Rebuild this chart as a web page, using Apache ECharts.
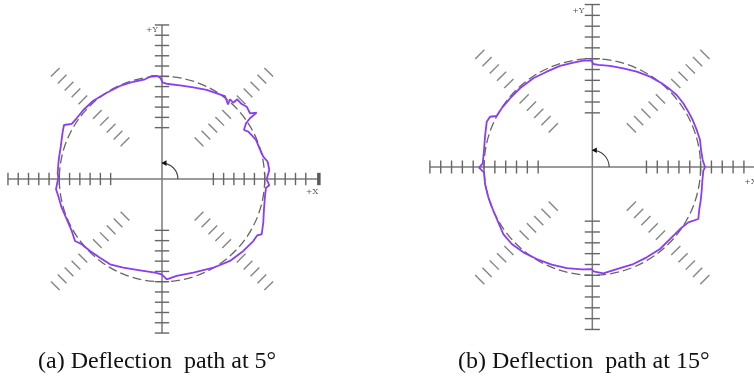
<!DOCTYPE html>
<html><head><meta charset="utf-8">
<script src="https://cdn.jsdelivr.net/npm/echarts@6/dist/echarts.min.js"></script>
<style>html,body{margin:0;padding:0;background:#fff}#c{width:754px;height:384px}</style>
</head><body><div id="c"></div>
<script>
// ---- data ----
const ticksNegX = [5,6,7,8,9,10,11,12,13,14,15];
const ticksPosX = [5,6,7,8,9,10,11,12,13,14];
const ticksPosY = [5,6,7,8,9,10,11,12,13,14,15];
const ticksNegY = [5,6,7,8,9,10,11,12,13,14,15];
const diagTicks = [5.1,6.05,7.0,7.95,8.9,10.9,11.85,12.8,13.75,14.7];
const axisLimit = 15;
const xEndBar = 15.25;
const refRadius = 10;
const arcRadius = 1.55;
const axisLabels = ['+Y', '+X'];
const axisLabelPosA = [[-1.0, 14.5], [14.6, -1.3]];
const axisLabelPosB = [[-1.3, 14.4], [14.6, -1.4]];
const captions = ['(a) Deflection  path at 5\u00b0', '(b) Deflection  path at 15\u00b0'];

const pathA = [[10.19,-0.03],[10.45,0.88],[10.29,1.68],[9.86,2.17],[9.54,2.89],[9.15,3.80],[8.73,4.28],[8.40,4.61],[7.98,4.77],[8.18,5.42],[8.57,5.91],[9.22,6.46],[8.57,6.40],[8.25,7.04],[7.76,7.30],[7.33,7.76],[6.94,7.43],[6.62,7.76],[6.43,7.25],[6.13,8.08],[5.33,8.34],[4.35,8.67],[3.05,8.93],[1.75,9.12],[0.61,9.25],[0.07,9.38],[-0.13,9.81],[-0.46,10.03],[-1.00,10.03],[-1.66,9.71],[-2.79,9.47],[-4.09,9.06],[-5.38,8.40],[-6.69,7.62],[-7.66,6.72],[-8.31,5.91],[-8.79,5.36],[-9.54,5.26],[-9.67,4.61],[-9.86,3.15],[-10.06,1.85],[-10.16,0.56],[-10.10,0.13],[-10.32,-1.00],[-10.10,-1.66],[-9.77,-2.79],[-9.28,-3.92],[-8.79,-5.06],[-8.47,-6.04],[-7.82,-6.36],[-7.01,-7.01],[-6.04,-7.66],[-5.06,-8.31],[-3.77,-8.64],[-2.14,-8.89],[-0.68,-9.12],[-0.03,-9.28],[0.46,-9.77],[1.43,-9.44],[3.05,-9.12],[5.00,-8.64],[6.62,-7.98],[7.92,-7.01],[8.89,-6.04],[9.28,-5.48],[9.71,-5.38],[9.86,-4.26],[9.93,-2.95],[10.03,-1.66],[10.13,-0.85],[10.45,-0.61],[10.19,-0.03]];

const pathB = [[10.41,-0.03],[10.19,0.65],[10.04,1.57],[9.95,2.49],[9.64,3.42],[9.27,4.34],[8.86,5.11],[8.40,5.88],[7.79,6.65],[7.17,7.17],[6.41,7.73],[5.33,8.34],[4.10,8.80],[2.86,9.11],[1.63,9.33],[0.55,9.42],[0.09,9.51],[-0.06,9.82],[-0.83,9.82],[-1.75,9.63],[-2.98,9.33],[-4.21,8.80],[-5.45,8.19],[-6.68,7.27],[-7.60,6.34],[-8.37,5.42],[-8.83,4.71],[-9.45,4.64],[-9.75,4.18],[-9.91,2.80],[-10.00,1.57],[-10.12,0.34],[-10.46,-0.05],[-10.00,-0.49],[-9.91,-1.57],[-9.60,-2.80],[-9.14,-4.04],[-8.68,-5.11],[-8.22,-6.19],[-7.44,-7.11],[-6.37,-7.88],[-5.13,-8.50],[-3.75,-9.02],[-2.36,-9.33],[-0.98,-9.45],[-0.06,-9.42],[0.09,-9.63],[1.02,-9.82],[2.25,-9.42],[3.79,-8.96],[5.02,-8.34],[6.25,-7.57],[7.17,-6.65],[8.10,-5.73],[8.86,-5.11],[9.79,-4.80],[9.88,-3.88],[10.01,-3.11],[10.10,-2.19],[10.16,-1.27],[10.25,-0.34],[10.41,-0.03]];

// ---- build tick items ----
const C = Math.SQRT1_2;
function tickItems() {
  const items = [];
  ticksNegX.forEach(d => items.push([-d, 0, 0]));
  ticksPosX.forEach(d => items.push([d, 0, 0]));
  ticksPosY.forEach(d => items.push([0, d, 1]));
  ticksNegY.forEach(d => items.push([0, -d, 1]));
  diagTicks.forEach(d => {
    items.push([d*C, d*C, 2]); items.push([-d*C, -d*C, 2]);
    items.push([-d*C, d*C, 3]); items.push([d*C, -d*C, 3]);
  });
  return items;
}
const axisLines = [[-axisLimit, 0, xEndBar, 0], [0, axisLimit, 0, -axisLimit]];

function renderTick(params, api) {
  const p = api.coord([api.value(0), api.value(1)]);
  const k = api.value(2);
  const u = api.size([1, 0])[0];
  let h, dx, dy, color = '#666';
  if (k === 0) { h = 0.6*u; dx = 0; dy = 1; }
  else if (k === 1) { h = 0.7*u; dx = 1; dy = 0; }
  else if (k === 2) { h = 0.6*u; dx = C; dy = C; color = '#858585'; }
  else { h = 0.6*u; dx = C; dy = -C; color = '#858585'; }
  return { type: 'line', shape: { x1: p[0]-dx*h, y1: p[1]-dy*h, x2: p[0]+dx*h, y2: p[1]+dy*h },
    style: { stroke: color, lineWidth: 1.4 } };
}
function renderAxisLine(params, api) {
  const a = api.coord([api.value(0), api.value(1)]);
  const b = api.coord([api.value(2), api.value(3)]);
  return { type: 'line', shape: { x1: a[0], y1: a[1], x2: b[0], y2: b[1] }, style: { stroke: '#7a7a7a', lineWidth: 1.5 } };
}
function renderBar(params, api) {
  const p = api.coord([api.value(0), api.value(1)]);
  const u = api.size([1, 0])[0];
  return { type: 'rect', shape: { x: p[0]-1.5, y: p[1]-0.6*u, width: 3.5, height: 1.2*u }, style: { fill: '#5a5a5a' } };
}
function renderCircle(params, api) {
  const p = api.coord([0, 0]);
  const r = api.size([api.value(0), 0])[0];
  return { type: 'circle', shape: { cx: p[0], cy: p[1], r: r },
    style: { fill: null, stroke: '#666', lineWidth: 1.3, lineDash: [9, 4] } };
}
function renderArc(params, api) {
  const p = api.coord([0, 0]);
  const r = api.size([api.value(0), 0])[0];
  return { type: 'group', children: [
    { type: 'arc', shape: { cx: p[0], cy: p[1], r: r, startAngle: -Math.PI/2, endAngle: 0, clockwise: true },
      style: { fill: null, stroke: '#444', lineWidth: 1.1 } },
    { type: 'polygon', shape: { points: [[p[0]-0.5, p[1]-r], [p[0]+4.5, p[1]-r-2.8], [p[0]+4.5, p[1]-r+2.8]] },
      style: { fill: '#111' } }
  ] };
}
function makeLabelRenderer(pos) {
  return function (params, api) {
    const i = params.dataIndex;
    const p = api.coord(pos[i]);
    return { type: 'text', x: p[0], y: p[1], style: { text: axisLabels[i], fill: '#555',
      font: '8px "DejaVu Serif"', align: 'center', verticalAlign: 'middle' } };
  };
}

function panelSeries(gi, path, labelPos) {
  const base = { xAxisIndex: gi, yAxisIndex: gi, silent: true, animation: false };
  return [
    Object.assign({ type: 'custom', renderItem: renderAxisLine, data: axisLines, z: 2, clip: false }, base),
    Object.assign({ type: 'custom', renderItem: renderTick, data: tickItems(), z: 2, clip: false }, base),
    Object.assign({ type: 'custom', renderItem: renderBar, data: [[xEndBar, 0]], z: 2, clip: false }, base),
    Object.assign({ type: 'custom', renderItem: renderCircle, data: [[refRadius]], z: 3, clip: false }, base),
    Object.assign({ type: 'custom', renderItem: renderArc, data: [[arcRadius]], z: 3, clip: false }, base),
    Object.assign({ type: 'custom', renderItem: makeLabelRenderer(labelPos), data: labelPos, z: 3, clip: false }, base),
    Object.assign({ type: 'line', data: path, showSymbol: false, symbol: 'none', z: 5, clip: false,
      lineStyle: { color: '#8b3cf7', width: 1.8 } }, base)
  ];
}

const chart = echarts.init(document.getElementById('c'), null, { renderer: 'canvas' });
const ax = (min, max) => ({ type: 'value', min: min, max: max, show: false });
chart.setOption({
  backgroundColor: '#fff',
  animation: false,
  grid: [
    { left: 1.8, top: 18.8, width: 320.4, height: 320.4 },
    { left: 423.4, top: 0.2, width: 328.1, height: 333.6 }
  ],
  xAxis: [Object.assign(ax(-15.6, 15.6), { gridIndex: 0 }), Object.assign(ax(-15.6, 14.7), { gridIndex: 1 })],
  yAxis: [Object.assign(ax(-15.6, 15.6), { gridIndex: 0 }), Object.assign(ax(-15.4, 15.4), { gridIndex: 1 })],
  series: [].concat(panelSeries(0, pathA, axisLabelPosA), panelSeries(1, pathB, axisLabelPosB)),
  graphic: [
    { type: 'text', left: 38, top: 350, style: { text: captions[0], font: '24px "Liberation Serif"', fill: '#111' } },
    { type: 'text', left: 458, top: 350, style: { text: captions[1], font: '24px "Liberation Serif"', fill: '#111' } }
  ]
});
</script></body></html>
